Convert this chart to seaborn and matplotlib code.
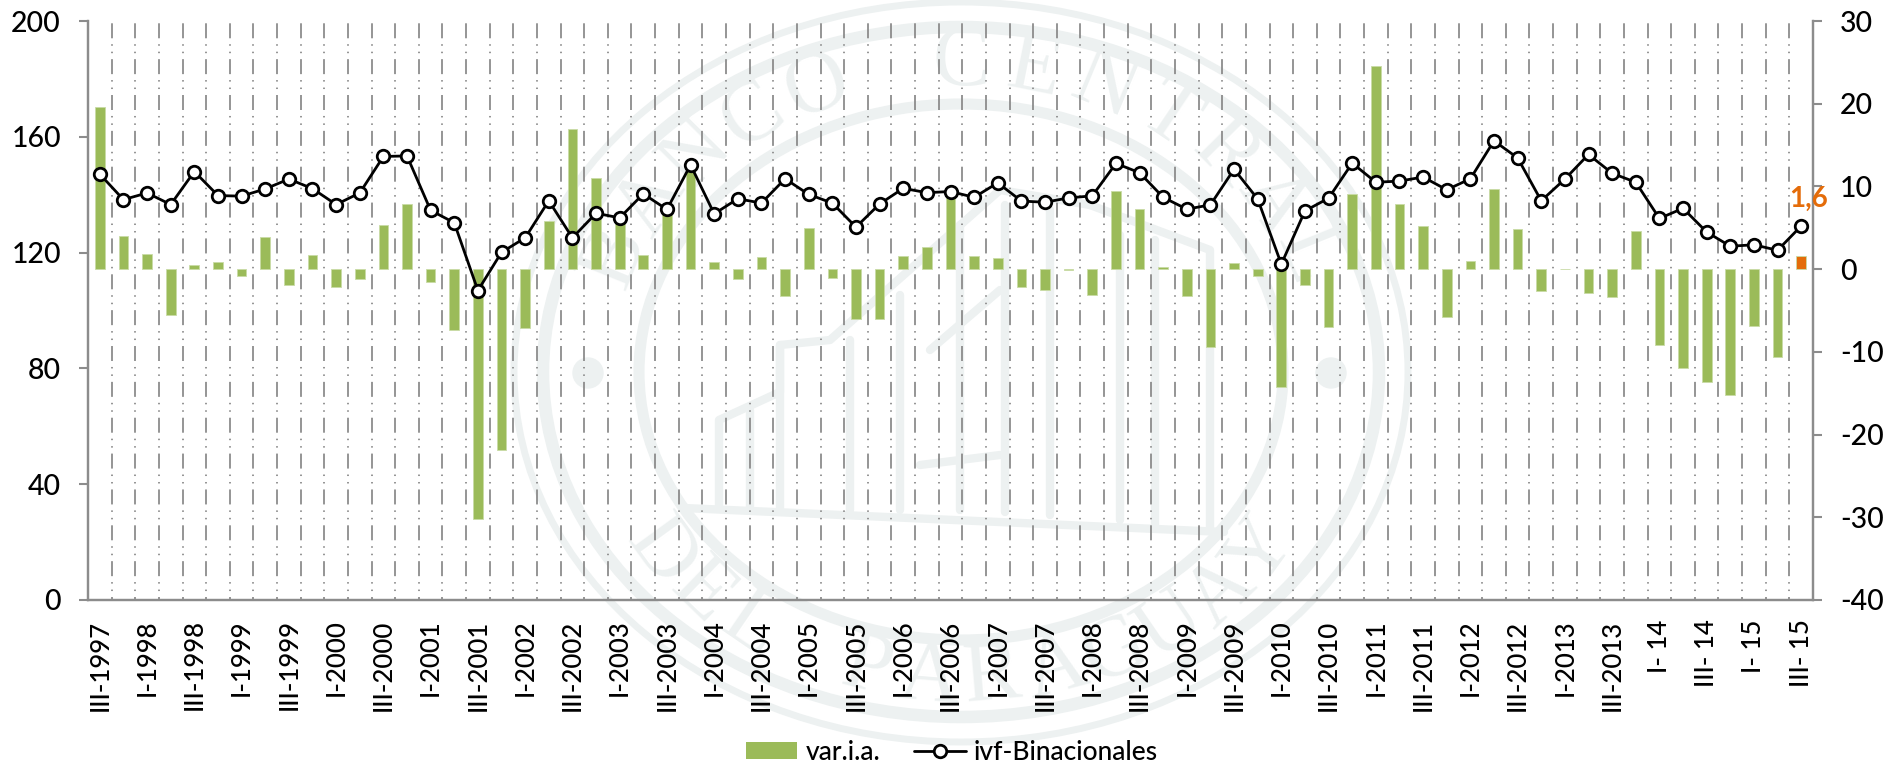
import numpy as np
import pandas as pd
import matplotlib
matplotlib.use('Agg')
import matplotlib.pyplot as plt
from matplotlib.patches import Ellipse, Patch
from matplotlib.lines import Line2D
import seaborn as sns

# Datos
etiquetas = ['III-1997', 'IV-1997']
for anio in range(1998, 2014):
    for trim in ['I', 'II', 'III', 'IV']:
        etiquetas.append(trim + '-' + str(anio))
for anio in ['14', '15']:
    for trim in ['I', 'II', 'III', 'IV']:
        etiquetas.append(trim + '- ' + anio)
etiquetas = etiquetas[:73]

var_ia = [19.6, 4.0, 1.8, -5.5, 0.5, 0.9, -0.8, 3.9, -1.9, 1.7, -2.2, -1.2,
          5.3, 7.9, -1.6, -7.3, -30.2, -21.9, -7.1, 5.8, 16.9, 11.0, 6.0, 1.65,
          7.3, 12.3, 0.85, -1.2, 1.45, -3.2, 5.0, -1.1, -6.0, -6.0, 1.6, 2.7,
          8.8, 1.6, 1.3, -2.1, -2.5, -0.05, -3.1, 9.5, 7.3, 0.2, -3.3, -9.4,
          0.8, -0.85, -14.3, -1.95, -7.0, 9.1, 24.5, 7.85, 5.2, -5.8, 1.0, 9.7,
          4.9, -2.7, 0.05, -2.9, -3.4, 4.6, -9.2, -11.9, -13.6, -15.2, -6.9,
          -10.6, 1.6]

ivf = [147.1, 138.3, 140.6, 136.6, 148.0, 139.7, 139.5, 142.0, 145.4, 142.1,
       136.6, 140.6, 153.2, 153.4, 134.6, 130.3, 106.9, 120.1, 125.1, 137.9,
       125.1, 133.6, 132.0, 140.3, 134.9, 150.3, 133.4, 138.6, 137.1, 145.5,
       140.1, 137.1, 128.8, 136.8, 142.2, 140.7, 141.1, 139.1, 144.1, 137.8,
       137.4, 138.9, 139.6, 150.8, 147.6, 139.1, 135.0, 136.5, 148.8, 138.5,
       116.0, 134.4, 138.8, 150.9, 144.3, 144.7, 146.1, 141.7, 145.5, 158.6,
       152.7, 137.9, 145.4, 153.9, 147.4, 144.3, 131.8, 135.3, 127.1, 122.2,
       122.7, 120.8, 129.2]

tipo = ['hist'] * 72 + ['ultimo']

df = pd.DataFrame({'periodo': etiquetas, 'var': var_ia, 'ivf': ivf, 'tipo': tipo})

VERDE = '#9bbb59'
NARANJA = '#e46c0a'
GRIS = '#8c8c8c'
SELLO = '#edf1f1'

sns.set_theme(style='white')
plt.rcParams['font.family'] = ['Lato', 'DejaVu Sans']
plt.rcParams['font.weight'] = 'medium'
plt.rcParams['axes.unicode_minus'] = False

fig = plt.figure(figsize=(18.88, 7.65), dpi=100)
W, H = 1888, 765


# ----------sello de fondo (marca de agua)-------------------
def dibujar_sello(fig):
    bg = fig.add_axes([0, 0, 1, 1], zorder=0)
    bg.set_xlim(0, W)
    bg.set_ylim(H, 0)
    bg.axis('off')
    cx, cy = 961, 372
    for rx, ry, lw in [(447, 370, 5), (418, 345, 9), (322, 268, 8)]:
        bg.add_patch(Ellipse((cx, cy), 2 * rx, 2 * ry, fill=False, ec=SELLO, lw=lw))
    for x in [588, 1331]:
        bg.add_patch(Ellipse((x, 373), 30, 30, color=SELLO))

    def texto_arco(texto, a0, a1, abajo=False):
        angulos = np.linspace(a0, a1, len(texto))
        for letra, a in zip(texto, angulos):
            x = cx + 372 * np.cos(np.radians(a))
            y = cy - 308 * np.sin(np.radians(a))
            rot = a - 90 if not abajo else a + 90
            bg.text(x, y, letra, ha='center', va='center', rotation=rot, fontsize=62,
                    color=SELLO, family='Liberation Serif', fontweight='normal')

    texto_arco('BANCO CENTRAL', 158, 22)
    texto_arco('DEL PARAGUAY', 216, 324, abajo=True)

    # edificio
    trazos = [
        [(684, 508), (1224, 532)],
        [(719, 508), (719, 420), (780, 392), (780, 345), (830, 340), (1000, 190), (1090, 205)],
        [(1090, 205), (1210, 250), (1210, 530)],
        [(1050, 210), (1050, 515)],
        [(1120, 235), (1120, 520)],
        [(1155, 240), (1155, 525)],
        [(960, 225), (960, 510)],
        [(1005, 205), (1005, 512)],
        [(850, 340), (850, 510)],
        [(900, 295), (900, 510)],
        [(780, 345), (780, 508)],
        [(750, 410), (750, 508)],
        [(920, 465), (1000, 455)],
        [(930, 350), (1000, 290)],
    ]
    for t in trazos:
        xs, ys = zip(*t)
        bg.plot(xs, ys, color=SELLO, lw=6, solid_capstyle='round')


dibujar_sello(fig)

# ----------grafico principal-------------------
izq, der = 88 / W, 1813 / W
abajo, arriba = 1 - 600 / H, 1 - 21 / H
ax = fig.add_axes([izq, abajo, der - izq, arriba - abajo], zorder=1)
ax.patch.set_alpha(0)

sns.barplot(data=df, x='periodo', y='var', hue='tipo', dodge=False, width=0.41,
            palette={'hist': VERDE, 'ultimo': NARANJA}, legend=False, ax=ax,
            edgecolor='#c9dba6', linewidth=0.6, saturation=1, zorder=3)
ax.set_xlim(-0.5, 72.5)
ax.set_ylim(-40, 30)
ax.set_xlabel('')
ax.set_ylabel('')
ax.set_yticks(np.arange(-40, 31, 10))

posiciones = np.arange(0, 73, 2)
ax.set_xticks(posiciones)
ax.set_xticklabels([etiquetas[i] for i in posiciones], rotation=90, ha='center', va='top')
ax.set_xticks(np.arange(-0.5, 73, 1), minor=True)
ax.grid(False)
ax.grid(True, which='minor', axis='x', color=GRIS, lw=1.3,
        ls=(6.65, (8.3, 3.3, 0.83, 3.3, 0.83, 3.3)), zorder=1)
ax.tick_params(axis='x', which='major', length=0, pad=14, labelsize=18.5, labelcolor='black')
ax.tick_params(axis='x', which='minor', length=6.5, width=1.3, color=GRIS)
ax.set_axisbelow(True)

ax_linea = ax.twinx()
ax_linea.patch.set_alpha(0)
sns.lineplot(data=df, x='periodo', y='ivf', sort=False, color='black', lw=2, marker='o',
             markersize=9, markerfacecolor='white', markeredgecolor='black',
             markeredgewidth=2, legend=False, ax=ax_linea, zorder=5)
ax_linea.set_ylim(0, 200)
ax_linea.set_xlim(-0.5, 72.5)
ax_linea.set_ylabel('')
ax_linea.set_xlabel('')
ax_linea.set_yticks(np.arange(0, 201, 40))
ax_linea.tick_params(axis='x', which='both', bottom=False, labelbottom=False)
ax_linea.grid(False)

# twinx cambia los lados, se vuelven a poner aqui
ax.yaxis.tick_right()
ax_linea.yaxis.tick_left()
for a in [ax, ax_linea]:
    a.tick_params(axis='y', length=6.5, width=1.5, color=GRIS, labelsize=20.5, pad=13, labelcolor='black')
    a.spines['top'].set_visible(False)
    for lado in ['left', 'right', 'bottom']:
        a.spines[lado].set_color(GRIS)
        a.spines[lado].set_linewidth(1.6)

ax_linea.annotate('1,6', xy=(72, ivf[72]), xytext=(5, 10), textcoords='offset points',
                  ha='center', va='bottom', color=NARANJA, fontsize=20, fontweight='bold',
                  annotation_clip=False)

handles = [Patch(facecolor=VERDE, edgecolor='none', label='var.i.a.'),
           Line2D([0], [0], color='black', lw=2, marker='o', markersize=9,
                  markerfacecolor='white', markeredgecolor='black', markeredgewidth=2,
                  label='ivf-Binacionales')]
fig.legend(handles=handles, loc='center', bbox_to_anchor=(952 / W, 1 - 752 / H), ncol=2,
           frameon=False, fontsize=19, handlelength=1.95, handleheight=0.6,
           handletextpad=0.3, columnspacing=1.3, borderpad=0, labelcolor='black')

plt.savefig('out.png', dpi=100)
